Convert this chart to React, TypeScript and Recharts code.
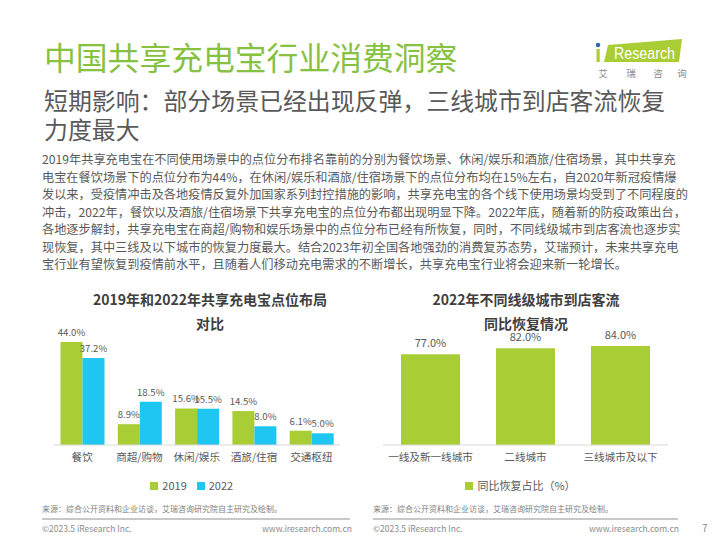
import React from 'react';
import { BarChart, Bar, XAxis, YAxis, Legend, LabelList } from 'recharts';

const leftCategories = ['餐饮', '商超/购物', '休闲/娱乐', '酒旅/住宿', '交通枢纽'];
const values2019 = [44.0, 8.9, 15.6, 14.5, 6.1];
const values2022 = [37.2, 18.5, 15.5, 8.0, 5.0];

const rightCategories = ['一线及新一线城市', '二线城市', '三线城市及以下'];
const recoveryValues = [77.0, 82.0, 84.0];

const bodyLines = [
  '2019年共享充电宝在不同使用场景中的点位分布排名靠前的分别为餐饮场景、休闲/娱乐和酒旅/住宿场景，其中共享充',
  '电宝在餐饮场景下的点位分布为44%，在休闲/娱乐和酒旅/住宿场景下的点位分布均在15%左右，自2020年新冠疫情爆',
  '发以来，受疫情冲击及各地疫情反复外加国家系列封控措施的影响，共享充电宝的各个线下使用场景均受到了不同程度的',
  '冲击，2022年，餐饮以及酒旅/住宿场景下共享充电宝的点位分布都出现明显下降。2022年底，随着新的防疫政策出台，',
  '各地逐步解封，共享充电宝在商超/购物和娱乐场景中的点位分布已经有所恢复，同时，不同线级城市到店客流也逐步实',
  '现恢复，其中三线及以下城市的恢复力度最大。结合2023年初全国各地强劲的消费复苏态势，艾瑞预计，未来共享充电',
  '宝行业有望恢复到疫情前水平，且随着人们移动充电需求的不断增长，共享充电宝行业将会迎来新一轮增长。',
];

const leftData = leftCategories.map((c, i) => ({ cat: c, y2019: values2019[i], y2022: values2022[i] }));
const rightData = rightCategories.map((c, i) => ({ cat: c, v: recoveryValues[i] }));

const FONT = '"Noto Sans CJK SC", "Noto Sans", sans-serif';
const GREEN = '#A9CD34';
const CYAN = '#1EC6F1';
const GRAY = '#595959';
const fmt = (v: any) => `${Number(v).toFixed(1)}%`;

const abs = (x: number, y: number, extra: React.CSSProperties = {}): React.CSSProperties => ({
  position: 'absolute',
  left: x,
  top: y,
  whiteSpace: 'nowrap',
  fontFamily: FONT,
  ...extra,
});

const legendFormatter = (value: any) => <span style={{ color: GRAY, fontSize: 11 }}>{value}</span>;

export default function App() {
  return (
    <div style={{ position: 'absolute', left: 0, top: 0, width: 720, height: 540, background: '#fff', overflow: 'hidden', fontFamily: FONT }}>
      {/* Title */}
      <div style={abs(44, 36, { fontSize: 31.8, color: '#86C23F', lineHeight: '40px' })}>中国共享充电宝行业消费洞察</div>
      <div style={abs(44, 86.5, { fontSize: 23.9, color: GRAY, lineHeight: '25px' })}>短期影响：部分场景已经出现反弹，三线城市到店客流恢复</div>
      <div style={abs(44, 115.5, { fontSize: 23.9, color: GRAY, lineHeight: '25px' })}>力度最大</div>

      {/* Logo */}
      <svg width={110} height={60} style={{ position: 'absolute', left: 585, top: 30 }}>
        <polygon points="23,15 97,9 94,32 19,32" fill="#A9CD34" />
        <circle cx={13} cy={15} r={2.3} fill="#2B6CB8" />
        <rect x={11.5} y={19} width={3.2} height={13} fill="#A9CD34" />
        <text x={29} y={29} fontSize={17} fill="#fff" textLength={61} lengthAdjust="spacingAndGlyphs" fontFamily='"Liberation Sans", Arial, sans-serif'>Research</text>
        <text x={18} y={47} fontSize={9.5} fill="#8c8c8c" textAnchor="middle" fontFamily={FONT}>艾</text>
        <text x={46} y={47} fontSize={9.5} fill="#8c8c8c" textAnchor="middle" fontFamily={FONT}>瑞</text>
        <text x={73} y={47} fontSize={9.5} fill="#8c8c8c" textAnchor="middle" fontFamily={FONT}>咨</text>
        <text x={97} y={47} fontSize={9.5} fill="#8c8c8c" textAnchor="middle" fontFamily={FONT}>询</text>
      </svg>

      {/* Body */}
      <div style={abs(42, 151, { fontSize: 12.2, color: GRAY, lineHeight: '17.5px' })}>
        {bodyLines.map((l, i) => (
          <div key={i}>{l}</div>
        ))}
      </div>

      {/* Left chart title */}
      <div style={abs(60, 287, { width: 300, textAlign: 'center', fontSize: 14, fontWeight: 'bold', color: '#404040', lineHeight: '24px' })}>
        2019年和2022年共享充电宝点位布局
        <br />
        对比
      </div>
      {/* Right chart title */}
      <div style={abs(376, 287, { width: 300, textAlign: 'center', fontSize: 14, fontWeight: 'bold', color: '#404040', lineHeight: '24px' })}>
        2022年不同线级城市到店客流
        <br />
        同比恢复情况
      </div>

      {/* Left chart */}
      <div style={{ position: 'absolute', left: 30, top: 320 }}>
        <BarChart width={320} height={180} data={leftData} margin={{ top: 8, right: 10, left: 23.5, bottom: 0 }} barGap={0} barSize={22}>
          <XAxis dataKey="cat" tickLine={false} axisLine={{ stroke: '#d9d9d9' }} tick={{ fill: GRAY, fontSize: 10.6 }} height={26} interval={0} />
          <YAxis hide domain={[0, 50]} />
          <Legend verticalAlign="bottom" height={29} iconType="square" iconSize={8} formatter={legendFormatter} />
          <Bar dataKey="y2019" name="2019" fill={GREEN} isAnimationActive={false}>
            <LabelList dataKey="y2019" position="top" formatter={fmt} fill={GRAY} fontSize={9.6} offset={6} />
          </Bar>
          <Bar dataKey="y2022" name="2022" fill={CYAN} isAnimationActive={false}>
            <LabelList dataKey="y2022" position="top" formatter={fmt} fill={GRAY} fontSize={9.6} offset={6} />
          </Bar>
        </BarChart>
      </div>

      {/* Right chart */}
      <div style={{ position: 'absolute', left: 360, top: 320 }}>
        <BarChart width={340} height={180} data={rightData} margin={{ top: 7, right: 32, left: 23, bottom: 0 }} barSize={59}>
          <XAxis dataKey="cat" tickLine={false} axisLine={{ stroke: '#d9d9d9' }} tick={{ fill: GRAY, fontSize: 10.6 }} height={26} interval={0} />
          <YAxis hide domain={[0, 100]} />
          <Legend verticalAlign="bottom" height={29} iconType="square" iconSize={8} formatter={legendFormatter} />
          <Bar dataKey="v" name="同比恢复占比（%）" fill={GREEN} isAnimationActive={false}>
            <LabelList dataKey="v" position="top" formatter={fmt} fill={GRAY} fontSize={11} offset={7} />
          </Bar>
        </BarChart>
      </div>

      {/* Footer */}
      <div style={abs(42, 503, { fontSize: 8, color: '#7f7f7f', lineHeight: '12px' })}>来源：综合公开资料和企业访谈，艾瑞咨询研究院自主研究及绘制。</div>
      <div style={abs(373, 503, { fontSize: 8, color: '#7f7f7f', lineHeight: '12px' })}>来源：综合公开资料和企业访谈，艾瑞咨询研究院自主研究及绘制。</div>
      <div style={{ position: 'absolute', left: 42, top: 518, width: 308, height: 1.5, background: '#c8c8c8' }} />
      <div style={{ position: 'absolute', left: 373, top: 518, width: 305, height: 1.5, background: '#c8c8c8' }} />
      <div style={abs(42, 522, { fontSize: 8.5, color: '#8c8c8c', lineHeight: '12px' })}>©2023.5 iResearch Inc.</div>
      <div style={abs(262, 522, { fontSize: 8.5, color: '#8c8c8c', lineHeight: '12px', width: 86, textAlign: 'right' })}>www.iresearch.com.cn</div>
      <div style={abs(373, 522, { fontSize: 8.5, color: '#8c8c8c', lineHeight: '12px' })}>©2023.5 iResearch Inc.</div>
      <div style={abs(589, 522, { fontSize: 8.5, color: '#8c8c8c', lineHeight: '12px', width: 86, textAlign: 'right' })}>www.iresearch.com.cn</div>
      <div style={abs(702, 521, { fontSize: 10, color: '#8c8c8c', lineHeight: '13px' })}>7</div>
    </div>
  );
}
